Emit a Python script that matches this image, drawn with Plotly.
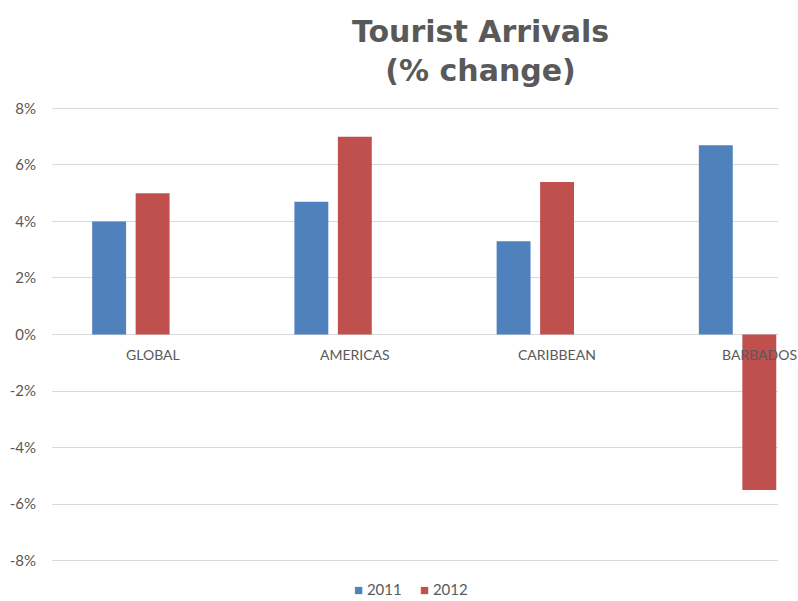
import plotly.graph_objects as go

categories = ["GLOBAL", "AMERICAS", "CARIBBEAN", "BARBADOS"]
values_2011 = [4.0, 4.7, 3.3, 6.7]
values_2012 = [5.0, 7.0, 5.4, -5.5]
series_names = ["2011", "2012"]
series_colors = ["#4F81BD", "#C0504D"]
y_ticks = [-8, -6, -4, -2, 0, 2, 4, 6, 8]
y_tick_labels = ["-8%", "-6%", "-4%", "-2%", "0%", "2%", "4%", "6%", "8%"]

fig = go.Figure()
fig.add_trace(go.Bar(x=categories, y=values_2011, name=series_names[0],
                     marker=dict(color=series_colors[0], line=dict(width=0))))
fig.add_trace(go.Bar(x=categories, y=values_2012, name=series_names[1],
                     marker=dict(color=series_colors[1], line=dict(width=0))))

for c in categories:
    fig.add_annotation(x=c, y=0, xref="x", yref="y", text=c, showarrow=False,
                       xshift=22, yshift=-20, font=dict(family="Lato", size=14, color="#595959"))

fig.add_annotation(x=471 / 798, xref="paper", xanchor="center",
                   y=1 + (107 - 12) / 455, yref="paper", yanchor="top",
                   text="<b>Tourist Arrivals<br>(% change)</b>", showarrow=False,
                   font=dict(family="DejaVu Sans", size=30, color="#595959"))

# legend drawn as text entries (compact, like the reference)
legend_left_px = [352, 418]
for name, col, px in zip(series_names, series_colors, legend_left_px):
    fig.add_annotation(x=(px - 52) / 726, xref="paper", xanchor="left",
                       y=-(589 - 562) / 455, yref="paper", yanchor="middle",
                       text=f"<span style='color:{col}'>■</span> {name}", showarrow=False,
                       font=dict(family="Lato", size=15, color="#595959"))

fig.update_layout(
    width=798, height=601,
    margin=dict(l=52, r=20, t=107, b=39, autoexpand=False),
    paper_bgcolor="white", plot_bgcolor="white",
    barmode="group", bargap=0.57, bargroupgap=0.22,
    xaxis=dict(type="category", range=[-0.39, 3.2], showticklabels=False,
               showgrid=False, zeroline=False, showline=False, ticks=""),
    yaxis=dict(range=[-8.05, 8.05], tickvals=y_ticks, ticktext=y_tick_labels,
               showgrid=True, gridcolor="#D9D9D9", gridwidth=1,
               zeroline=True, zerolinecolor="#D9D9D9", zerolinewidth=1,
               showline=False, ticks="", ticklabelstandoff=15,
               tickfont=dict(family="Lato", size=15, color="#595959")),
    showlegend=False,
)

fig.write_html("out.html")
